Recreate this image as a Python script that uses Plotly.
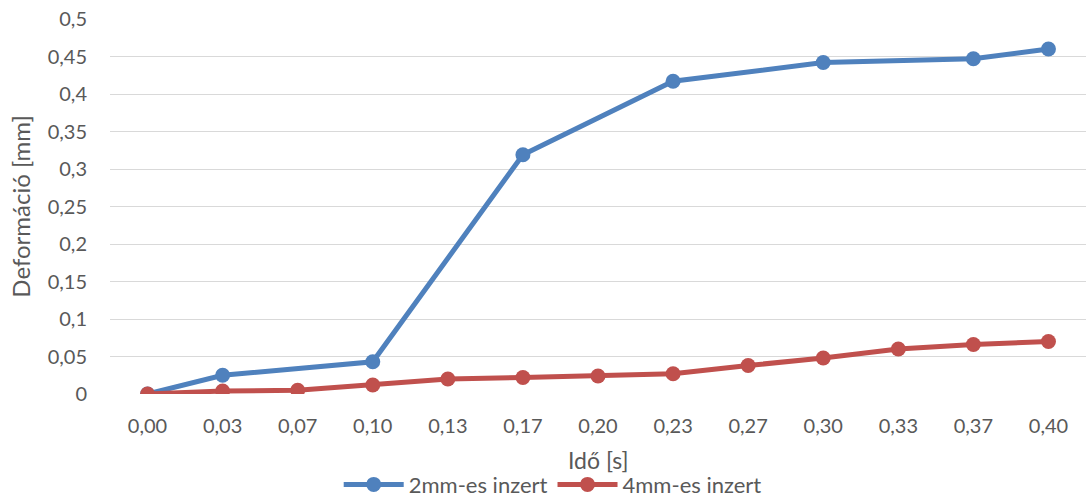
import plotly.graph_objects as go

# Time categories (s) and measured deformation (mm)
ido = ["0,00", "0,03", "0,07", "0,10", "0,13", "0,17", "0,20",
       "0,23", "0,27", "0,30", "0,33", "0,37", "0,40"]
inzert_2mm = [0.0, 0.025, None, 0.043, None, 0.319, None,
              0.417, None, 0.442, None, 0.447, 0.460]
inzert_4mm = [0.0, 0.004, 0.005, 0.012, 0.020, 0.022, 0.024,
              0.027, 0.038, 0.048, 0.060, 0.066, 0.070]

BLUE = "#4F81BD"
RED = "#C0504D"
TEXT = "#595959"
FONT = "Lato, 'Open Sans', sans-serif"

fig = go.Figure()
fig.add_trace(go.Scatter(
    x=ido, y=inzert_2mm, name="2mm-es inzert", mode="lines+markers",
    connectgaps=True,
    line=dict(color=BLUE, width=5),
    marker=dict(color=BLUE, size=15),
))
fig.add_trace(go.Scatter(
    x=ido, y=inzert_4mm, name="4mm-es inzert", mode="lines+markers",
    line=dict(color=RED, width=5),
    marker=dict(color=RED, size=15),
))

fig.update_layout(
    width=1088, height=497,
    margin=dict(l=110, r=2, t=19, b=103),
    paper_bgcolor="white", plot_bgcolor="white",
    separators=", ",
    font=dict(family=FONT, size=20, color=TEXT),
    showlegend=True,
    legend=dict(orientation="h", xref="container", yref="container",
                x=0.508, y=0.025, xanchor="center", yanchor="middle",
                font=dict(size=22, color=TEXT), traceorder="normal",
                tracegroupgap=0, itemwidth=60),
    xaxis=dict(type="category", range=[-0.5, 12.5], showgrid=False, zeroline=False,
               showline=False, ticks="", ticklabelstandoff=18,
               tickfont=dict(size=20, color=TEXT)),
    yaxis=dict(range=[0, 0.5], dtick=0.05, showgrid=True, gridcolor="#D9D9D9",
               gridwidth=1.3, zeroline=False, showline=False, ticks="",
               ticklabelstandoff=22, tickfont=dict(size=20, color=TEXT)),
    annotations=[
        dict(text="Idő [s]", x=0.5, y=-0.175, xref="paper", yref="paper",
             xanchor="center", yanchor="middle", showarrow=False,
             font=dict(size=23, color=TEXT)),
        dict(text="Deformáció [mm]", x=-0.092, y=0.5, xref="paper", yref="paper",
             xanchor="center", yanchor="middle", showarrow=False, textangle=-90,
             font=dict(size=24, color=TEXT)),
    ],
)

fig.write_html("out.html")
